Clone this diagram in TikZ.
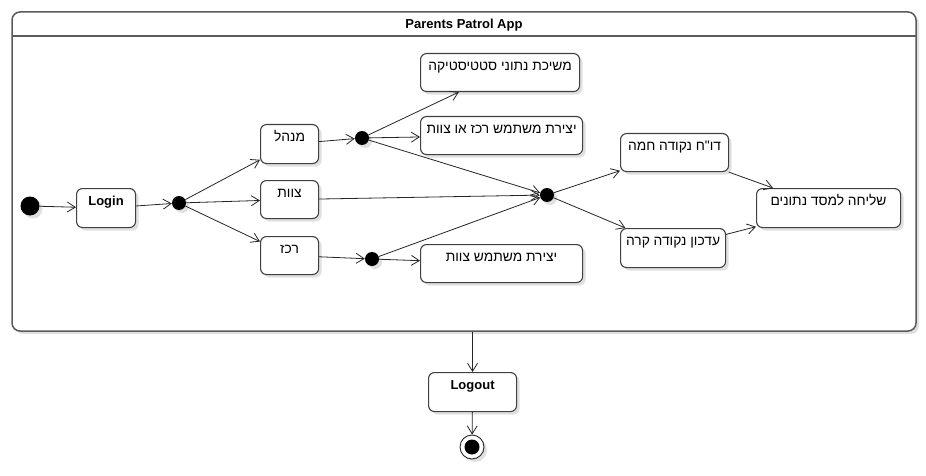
\documentclass[tikz,border=0pt]{standalone}
\usepackage{fontspec}
\setmainfont{Liberation Sans}
\newfontfamily\hebfont[Script=Hebrew]{Liberation Sans}
\TeXXeTstate=1
\usetikzlibrary{arrows.meta,shadows}
\newcommand{\heb}[1]{{\hebfont\beginR #1\endR}}
\definecolor{boxc}{HTML}{404040}
\definecolor{framec}{HTML}{5A5A5A}
\tikzset{
  shad/.style={drop shadow={shadow xshift=3pt,shadow yshift=-3pt,opacity=0.12,fill=black}},
  st/.style={draw=boxc, line width=1.1pt, rounded corners=6pt, fill=white, inner sep=0pt,
     text height=17pt, font=\fontsize{13.8}{16}\selectfont, anchor=north west, shad},
  bold/.style={font=\bfseries\fontsize{13}{15}\selectfont},
  dot/.style={circle, fill=black, inner sep=0pt, minimum size=14pt, shad},
  arr/.style={draw=black!85, line width=0.8pt, -{Straight Barb[length=8pt,width=10pt,line width=0.8pt]}},
}
\begin{document}
\begin{tikzpicture}[x=1pt,y=-1pt]
\useasboundingbox (0,0) rectangle (926,476);
% frame
\node[draw=framec, line width=1.5pt, rounded corners=8pt, minimum width=904pt, minimum height=319pt,
      inner sep=0pt, fill=white, drop shadow={shadow xshift=3pt,shadow yshift=-3pt,opacity=0.12,fill=black}] (app) at (464,171.5) {};
\coordinate (sepL) at (12,36);
\coordinate (sepR) at (916,36);
\draw[framec, line width=1.5pt] (sepL) -- (sepR);
\node[bold] (title) at (464,25) {Parents Patrol App};
% nodes
\node[dot, minimum size=19pt] (init) at (30,206) {};
\node[st, bold, minimum width=59pt, text depth=22pt] (login) at (76,188) {Login};
\node[dot] (f1) at (179,203) {};
\node[st, minimum width=58pt, text depth=22pt] (mng) at (260,124) {\heb{מנהל}};
\node[st, minimum width=58pt, text depth=21pt] (team) at (260,180) {\heb{צוות}};
\node[st, minimum width=58pt, text depth=21pt] (crd) at (260,236) {\heb{רכז}};
\node[dot] (d2) at (362,138) {};
\node[dot] (d4) at (372,259) {};
\node[dot] (d3) at (547,195) {};
\node[st, minimum width=159pt, text depth=21pt] (stats) at (420,53) {\heb{משיכת נתוני סטטיסטיקה}};
\node[st, minimum width=162pt, text depth=21pt] (cuser) at (420,116) {\heb{יצירת משתמש רכז או צוות}};
\node[st, minimum width=162pt, text depth=21pt] (tuser) at (420,244) {\heb{יצירת משתמש צוות}};
\node[st, minimum width=108pt, text depth=21pt] (hot) at (620,133) {\heb{דו"ח נקודה חמה}};
\node[st, minimum width=105pt, text depth=22pt] (cold) at (620,228) {\heb{עדכון נקודה קרה}};
\node[st, minimum width=144pt, text depth=22pt] (send) at (756,188) {\heb{שליחה למסד נתונים}};
\node[st, bold, minimum width=88pt, text depth=22pt] (logout) at (428,372) {Logout};
\node[circle, draw=black!85, line width=0.9pt, fill=white, minimum size=24pt, inner sep=0pt, shad] (fin) at (472,447) {};
\fill (fin) circle (7.5pt);
% connectors
\draw[arr] (init) -- (login);
\draw[arr] (login) -- (f1);
\draw[arr] (f1) -- (mng);
\draw[arr] (f1) -- (team);
\draw[arr] (f1) -- (crd);
\draw[arr] (mng) -- (d2);
\draw[arr] (team) -- (d3);
\draw[arr] (crd) -- (d4);
\draw[arr] (d2) -- (stats);
\draw[arr] (d2) -- (cuser);
\draw[arr] (d2) -- (d3);
\draw[arr] (d4) -- (tuser);
\draw[arr] (d4) -- (d3);
\draw[arr] (d3) -- (hot);
\draw[arr] (d3) -- (cold);
\draw[arr] (hot) -- (send);
\draw[arr] (cold) -- (send);
\draw[arr] (app.south -| logout.north) -- (logout);
\draw[arr] (logout) -- (fin);
\end{tikzpicture}
\end{document}
